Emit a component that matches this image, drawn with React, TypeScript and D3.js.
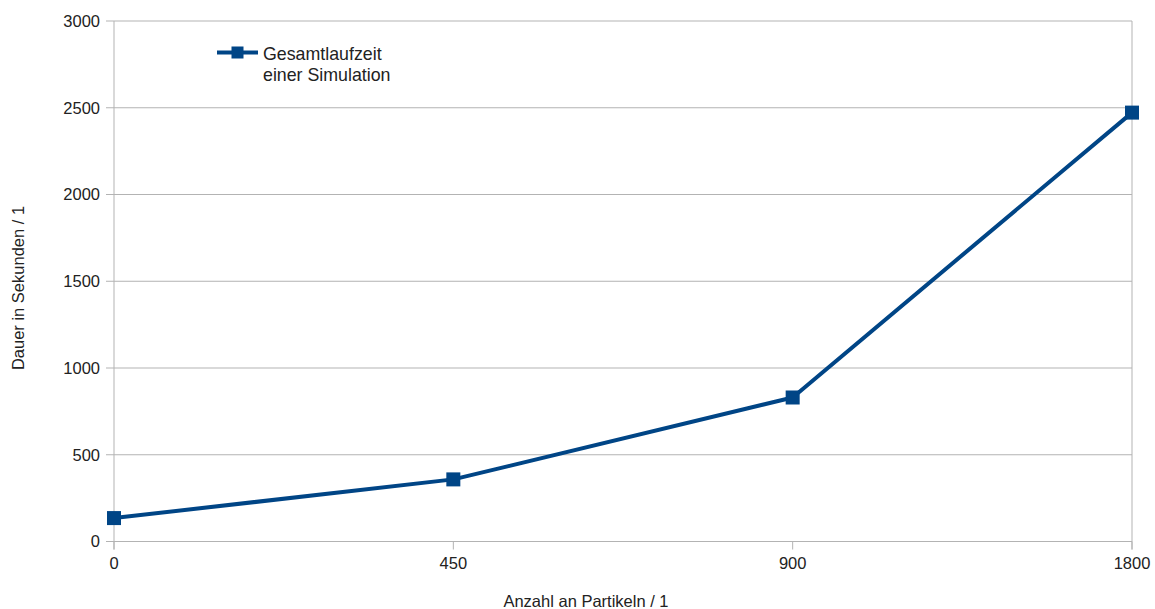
import React from "react";
import * as d3 from "d3";

const categories = ["0", "450", "900", "1800"];
const values = [135, 358, 830, 2472];
const yTicks = [0, 500, 1000, 1500, 2000, 2500, 3000];
const seriesName = ["Gesamtlaufzeit", "einer Simulation"];
const xTitle = "Anzahl an Partikeln / 1";
const yTitle = "Dauer in Sekunden / 1";

const W = 1155, H = 609;
const left = 114, right = 1132, top = 21, bottom = 541.5;
const color = "#004586";
const grid = "#b3b3b3";
const font = "'Liberation Sans', Arial, sans-serif";

export default function App() {
  const x = d3.scalePoint<string>().domain(categories).range([left, right]).padding(0);
  const y = d3.scaleLinear().domain([0, 3000]).range([bottom, top]);
  const line = d3.line<number>().x((_, i) => x(categories[i])!).y((d) => y(d));
  const ms = 14;
  return (
    <svg width={W} height={H} style={{ position: "absolute", left: 0, top: 0 }} fontFamily={font}>
      <rect width={W} height={H} fill="#fff" />
      {yTicks.map((t) => (
        <g key={t}>
          <line x1={left - 8} x2={right} y1={y(t)} y2={y(t)} stroke={grid} strokeWidth={1} />
          <text x={100} y={y(t)} dy="0.35em" textAnchor="end" fontSize={16.5} fill="#222">{t}</text>
        </g>
      ))}
      <line x1={left} x2={left} y1={top} y2={bottom + 8} stroke={grid} strokeWidth={1} />
      <line x1={right} x2={right} y1={top} y2={bottom + 8} stroke={grid} strokeWidth={1} />
      {categories.map((c) => (
        <g key={c}>
          <line x1={x(c)} x2={x(c)} y1={bottom} y2={bottom + 8} stroke={grid} strokeWidth={1} />
          <text x={x(c)} y={563} dy="0.35em" textAnchor="middle" fontSize={16.5} fill="#222">{c}</text>
        </g>
      ))}
      <path d={line(values)!} fill="none" stroke={color} strokeWidth={4} strokeLinejoin="round" />
      {values.map((v, i) => (
        <rect key={i} x={x(categories[i])! - ms / 2} y={y(v) - ms / 2} width={ms} height={ms} fill={color} />
      ))}
      <line x1={217} x2={258} y1={52.5} y2={52.5} stroke={color} strokeWidth={4} />
      <rect x={237.5 - 6} y={52.5 - 6} width={12} height={12} fill={color} />
      <text x={263} y={54} dy="0.35em" fontSize={17.8} fill="#222">{seriesName[0]}</text>
      <text x={263} y={75} dy="0.35em" fontSize={17.8} fill="#222">{seriesName[1]}</text>
      <text x={586} y={601} dy="0.35em" textAnchor="middle" fontSize={16.5} fill="#222">{xTitle}</text>
      <text transform={`translate(18,${288}) rotate(-90)`} dy="0.35em" textAnchor="middle" fontSize={16.5} fill="#222">{yTitle}</text>
    </svg>
  );
}
